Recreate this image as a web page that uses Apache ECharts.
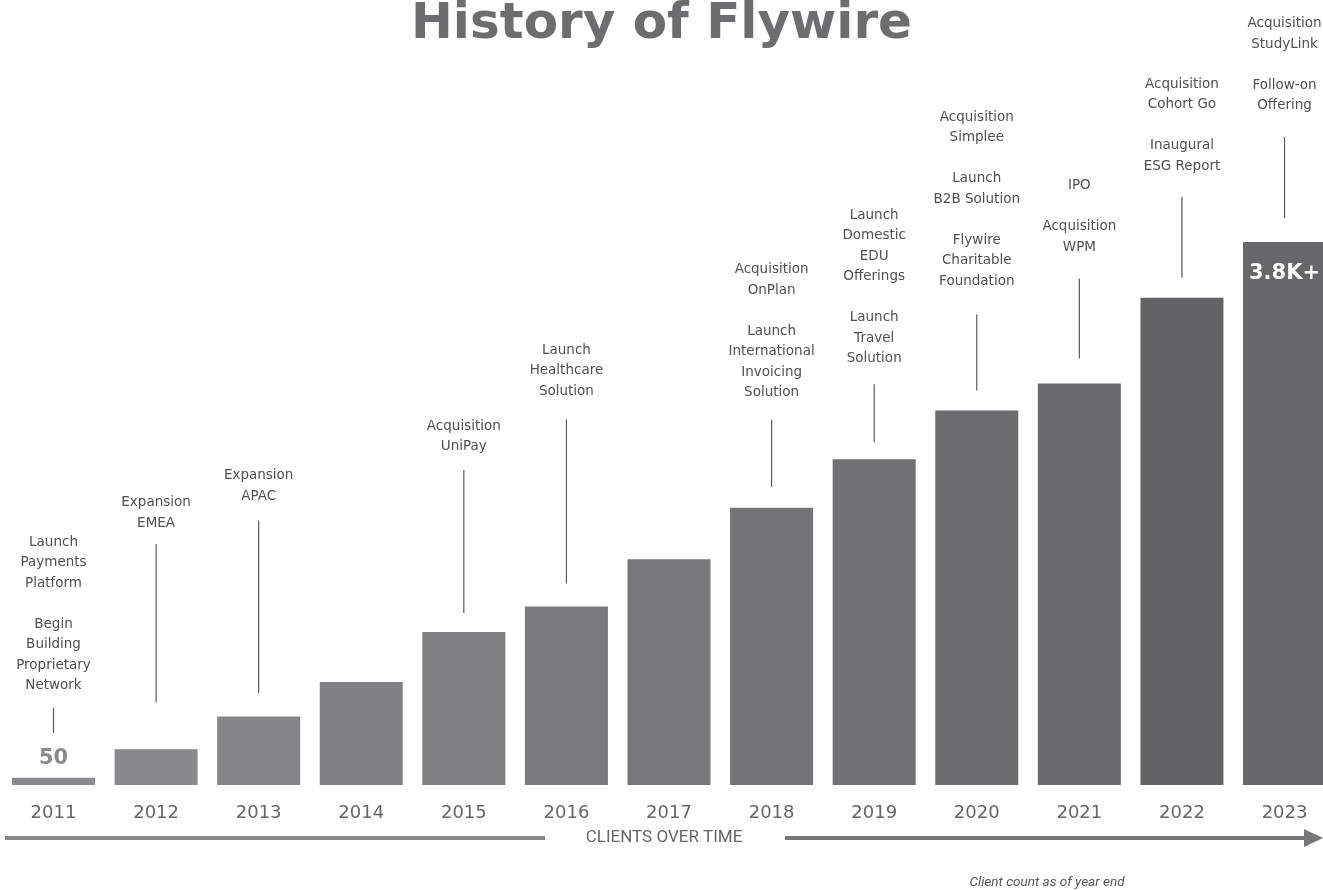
<!DOCTYPE html>
<html>
<head>
<meta charset="utf-8">
<script src="https://cdn.jsdelivr.net/npm/echarts@6/dist/echarts.min.js"></script>
<style>
html,body{margin:0;padding:0;background:#fff;}
#chart{width:1323px;height:890px;}
</style>
</head>
<body>
<div id="chart"></div>
<script>
// ---- data ----
const years = ['2011','2012','2013','2014','2015','2016','2017','2018','2019','2020','2021','2022','2023'];
const clients = [50, 250, 480, 720, 1070, 1250, 1580, 1940, 2280, 2620, 2810, 3410, 3800];
const valueLabels = {0: '50', 12: '3.8K+'};
const milestones = [
  'Launch\nPayments\nPlatform\n\nBegin\nBuilding\nProprietary\nNetwork',
  'Expansion\nEMEA',
  'Expansion\nAPAC',
  '',
  'Acquisition\nUniPay',
  'Launch\nHealthcare\nSolution',
  '',
  'Acquisition\nOnPlan\n\nLaunch\nInternational\nInvoicing\nSolution',
  'Launch\nDomestic\nEDU\nOfferings\n\nLaunch\nTravel\nSolution',
  'Acquisition\nSimplee\n\nLaunch\nB2B Solution\n\nFlywire\nCharitable\nFoundation',
  'IPO\n\nAcquisition\nWPM',
  'Acquisition\nCohort Go\n\nInaugural\nESG Report',
  'Acquisition\nStudyLink\n\nFollow-on\nOffering'
];
const titleText = 'History of Flywire';
const axisCaption = 'CLIENTS OVER TIME';
const footnote = 'Client count as of year end';

// ---- styling / layout (not data) ----
const barColors = ['#8b8b8e','#88888b','#858588','#818184','#7e7e81','#7b7b7e','#78787b','#747477','#717174','#6d6d70','#6a6a6d','#636366','#67676a'];
// [gap between bar top and line bottom, line length, gap between line top and text bottom]
const connector = [[45,25,12],[47,158,11],[23,173,14],null,[19,143,13],[23,164,18],null,[21,67,17],[17,58,15],[20,76,23],[25,80,21],[20,81,20],[24,81,21]];

const chart = echarts.init(document.getElementById('chart'), null, {renderer:'canvas'});
const FONT = 'DejaVu Sans';

const barData = clients.map((v, i) => {
  const item = {value: [i, v], itemStyle: {color: barColors[i]}};
  if (valueLabels[i] !== undefined) {
    item.label = i === 12 ? {
      show: true, position: 'insideTop', distance: 21, formatter: valueLabels[i],
      color: '#ffffff', fontSize: 21, fontWeight: 'bold', fontFamily: FONT
    } : {
      show: true, position: 'top', distance: 9, formatter: valueLabels[i],
      color: '#8a8a8a', fontSize: 21, fontWeight: 'bold', fontFamily: FONT
    };
  }
  return item;
});

const option = {
  backgroundColor: '#ffffff',
  animation: false,
  title: {
    text: titleText, left: 'center', top: -5,
    textStyle: {fontSize: 50, fontWeight: 'bold', color: '#6d6d70', fontFamily: FONT}
  },
  grid: {left: 53.5, right: 0, top: 242, bottom: 105, containLabel: false},
  xAxis: {
    type: 'value', min: 0, max: 12.375, interval: 1,
    splitLine: {show: false}, axisLine: {show: false}, axisTick: {show: false},
    axisLabel: {color: '#666668', fontSize: 18, fontFamily: FONT, margin: 19,
      showMaxLabel: false,
      formatter: v => (Number.isInteger(v) && years[v] !== undefined) ? years[v] : ''}
  },
  yAxis: {type: 'value', min: 0, max: 3800, show: false, splitLine: {show: false}},
  series: [
    {type: 'bar', data: barData, barWidth: 83, silent: true, clip: false},
    {
      type: 'custom', silent: true, clip: false,
      data: clients.map((v, i) => [i, v]),
      encode: {x: 0, y: 1},
      renderItem: function (params, api) {
        const i = params.dataIndex;
        const c = connector[i];
        if (!milestones[i] || !c) return null;
        const p = api.coord([api.value(0), api.value(1)]);
        const yBottom = p[1] - c[0];
        const yTop = yBottom - c[1];
        return {
          type: 'group',
          children: [
            {type: 'line', shape: {x1: p[0], y1: yBottom, x2: p[0], y2: yTop},
             style: {stroke: '#5a5a5c', lineWidth: 1.2}},
            {type: 'text', x: p[0], y: yTop - c[2],
             style: {text: milestones[i], align: 'center', verticalAlign: 'bottom',
                     fill: '#505052', fontSize: 13.5, lineHeight: 20.5, fontFamily: FONT}}
          ]
        };
      }
    }
  ],
  graphic: [
    {type: 'line', shape: {x1: 5, y1: 838, x2: 545, y2: 838}, style: {stroke: '#8a8a8c', lineWidth: 4}},
    {type: 'line', shape: {x1: 785, y1: 838, x2: 1306, y2: 838}, style: {stroke: '#777779', lineWidth: 4}},
    {type: 'polygon', shape: {points: [[1304, 829], [1323, 838], [1304, 847]]}, style: {fill: '#777779'}},
    {type: 'text', x: 664, y: 838, style: {text: axisCaption, align: 'center', verticalAlign: 'middle',
      fill: '#666668', fontSize: 17, fontFamily: 'Liberation Sans Narrow, Roboto'}},
    {type: 'text', x: 1047, y: 883, style: {text: footnote, align: 'center', verticalAlign: 'middle',
      fill: '#555557', fontSize: 13.5, fontStyle: 'italic', fontFamily: 'Liberation Sans Narrow, Roboto'}}
  ]
};
chart.setOption(option);
</script>
</body>
</html>
